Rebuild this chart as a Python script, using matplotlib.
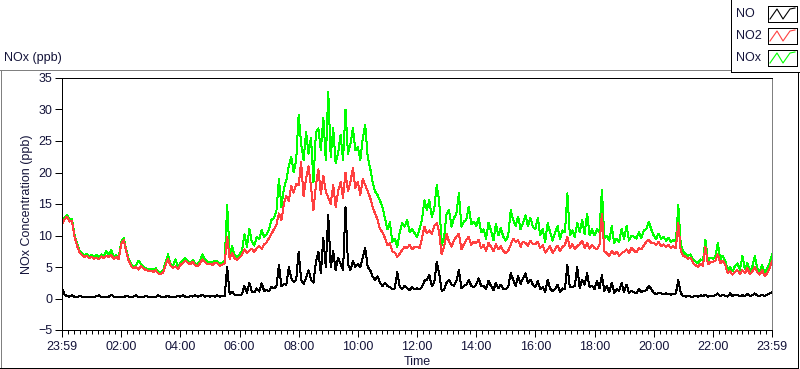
import numpy as np
import matplotlib
matplotlib.use('Agg')
import matplotlib.pyplot as plt
from matplotlib.patches import Rectangle

plt.rcParams['font.family'] = ['Liberation Sans', 'DejaVu Sans']

# 5-minute readings (ppb), one row per hour starting at 23:59
no2 = [11.8, 12.5, 13.0, 12.2, 12.3, 10.0, 8.5, 7.4, 6.9, 6.6, 6.8, 6.4,
       6.6, 6.3, 6.5, 6.2, 6.7, 6.4, 6.8, 6.6, 6.9, 6.3, 6.6, 6.2,
       8.6, 9.3, 7.6, 6.0, 5.2, 4.8, 5.0, 4.6, 5.2, 4.8, 4.5, 4.4,
       4.4, 4.2, 4.5, 4.0, 3.9, 4.1, 5.3, 6.3, 5.2, 4.9, 5.1, 4.7,
       5.3, 5.6, 6.0, 5.7, 5.4, 5.8, 5.3, 5.1, 5.6, 6.2, 5.8, 5.4,
       5.5, 5.3, 5.7, 5.6, 5.2, 5.4, 5.6, 9.8, 6.3, 7.2, 6.4, 6.1,
       6.5, 6.9, 7.8, 7.2, 7.6, 7.9, 7.4, 8.0, 8.3, 7.9, 8.6, 8.9,
       9.6, 10.3, 11.0, 11.8, 13.5, 12.4, 15.0, 16.3, 15.5, 17.8, 16.8, 18.2,
       18.0, 21.7, 16.2, 19.0, 21.0, 17.8, 14.0, 18.0, 20.5, 16.5, 19.5, 17.0,
       16.0, 15.0, 18.0, 14.5, 17.0, 18.5, 16.0, 20.0, 17.0, 18.5, 20.7, 17.5,
       18.5, 16.4, 19.0, 18.0, 17.0, 16.0, 14.5, 13.5, 12.5, 11.0, 10.5, 9.6,
       8.5, 8.8, 7.5, 7.3, 6.6, 7.1, 7.7, 8.2, 8.0, 8.5, 7.8, 8.2,
       8.2, 8.0, 9.5, 11.4, 10.4, 10.8, 10.2, 11.5, 12.0, 10.5, 7.0, 8.2,
       10.3, 9.0, 8.2, 9.3, 9.8, 10.3, 7.8, 8.6, 9.3, 9.8, 8.5, 9.0,
       8.8, 9.3, 8.0, 8.5, 7.6, 8.8, 8.2, 7.5, 8.6, 7.8, 8.3, 7.6,
       7.2, 7.6, 8.5, 9.5, 9.0, 9.3, 8.2, 9.0, 8.8, 8.4, 9.2, 8.6,
       8.6, 9.0, 8.0, 8.5, 7.3, 7.8, 8.3, 7.2, 7.8, 8.4, 7.5, 8.2,
       8.5, 9.8, 8.0, 8.6, 7.8, 8.3, 8.6, 9.2, 8.0, 8.8, 7.9, 8.5,
       8.0, 7.8, 8.5, 13.5, 7.5, 7.2, 6.8, 7.6, 7.0, 7.4, 6.8, 7.2,
       7.4, 7.8, 7.2, 8.0, 7.6, 7.3, 8.0, 7.8, 8.4, 9.0, 9.3, 8.8,
       8.8, 8.5, 9.0, 8.3, 8.6, 8.2, 8.5, 8.0, 8.3, 8.0, 12.0, 7.5,
       6.8, 6.6, 6.3, 6.5, 5.6, 5.3, 5.0, 5.5, 5.2, 8.2, 5.4, 5.8,
       5.8, 6.0, 7.0, 5.6, 6.0, 5.4, 4.0, 4.3, 3.8, 4.2, 4.5, 3.9,
       4.5, 4.0, 4.8, 3.9, 4.3, 5.0, 4.2, 3.8, 4.5, 3.6, 4.0, 4.8,
       6.0]

nox = [12.0, 12.8, 13.3, 12.5, 12.6, 10.3, 8.8, 7.7, 7.2, 6.9, 7.1, 6.7,
       6.9, 6.6, 6.9, 6.5, 7.0, 6.7, 7.5, 6.9, 7.7, 6.6, 6.9, 6.5,
       8.9, 9.6, 7.9, 6.3, 5.5, 5.1, 5.3, 6.0, 5.5, 5.1, 4.8, 4.7,
       4.7, 4.6, 4.8, 4.3, 4.1, 4.4, 5.7, 7.0, 5.5, 5.2, 6.2, 5.0,
       5.6, 6.0, 6.4, 6.0, 5.7, 6.1, 5.6, 5.4, 6.0, 7.0, 6.2, 5.8,
       5.8, 5.6, 6.0, 5.9, 5.5, 5.7, 6.0, 14.8, 7.0, 8.3, 6.9, 6.6,
       7.0, 7.6, 10.2, 8.2, 11.0, 9.0, 8.4, 9.8, 9.4, 10.9, 9.8, 10.2,
       11.0, 12.5, 12.8, 14.0, 19.0, 14.5, 17.5, 18.8, 21.0, 22.5, 20.0, 22.0,
       29.2, 24.5, 22.0, 26.4, 23.0, 25.5, 18.5, 26.4, 27.0, 23.5, 28.7, 22.0,
       32.8, 22.5, 27.0, 21.5, 23.0, 26.0, 22.0, 30.0, 23.0, 24.5, 27.0, 23.5,
       24.0, 22.0, 25.5, 27.5, 22.5, 20.7, 18.5, 17.0, 16.4, 15.5, 14.5, 12.7,
       11.0, 12.1, 9.0, 9.5, 8.2, 10.5, 12.0, 11.4, 12.5, 10.5, 11.0, 10.4,
       9.8, 11.0, 12.5, 15.6, 14.0, 15.6, 13.0, 14.2, 18.0, 15.5, 8.5, 9.8,
       13.5, 14.0, 11.4, 12.8, 13.5, 16.7, 11.4, 12.2, 12.5, 14.6, 11.8, 12.2,
       11.5, 12.8, 10.5, 11.0, 9.5, 12.0, 10.8, 9.2, 11.8, 10.0, 11.2, 9.8,
       9.2, 10.0, 14.0, 12.5, 11.5, 13.0, 11.0, 12.0, 13.2, 11.5, 12.8, 11.4,
       11.0, 12.8, 10.0, 11.0, 9.0, 12.0, 10.5, 9.2, 10.5, 11.5, 9.5, 10.8,
       10.5, 16.7, 10.0, 10.8, 9.8, 12.0, 10.5, 12.5, 10.2, 13.5, 10.0, 11.0,
       10.0, 11.0, 10.5, 17.3, 9.5, 10.0, 9.2, 11.5, 8.8, 9.5, 9.0, 11.0,
       9.5, 11.5, 9.2, 10.0, 9.8, 9.5, 10.5, 9.6, 10.8, 11.0, 12.2, 11.0,
       10.0, 9.5, 10.3, 9.5, 9.8, 9.2, 9.6, 9.0, 9.3, 9.0, 14.8, 8.5,
       7.4, 7.0, 6.8, 7.0, 6.2, 5.9, 5.6, 6.2, 6.0, 9.3, 6.0, 6.5,
       6.3, 6.6, 8.8, 6.2, 6.8, 6.0, 4.5, 5.0, 4.3, 5.2, 5.6, 4.5,
       6.8, 4.6, 5.6, 4.4, 5.0, 6.7, 4.8, 4.3, 5.3, 4.1, 4.8, 5.6,
       7.0]

no = [1.7, 0.6, 0.4, 0.3, 0.5, 0.3, 0.2, 0.4, 0.3, 0.2, 0.3, 0.2,
      0.3, 0.2, 0.4, 0.5, 0.2, 0.3, 0.2, 0.3, 0.6, 0.3, 0.2, 0.3,
      0.3, 0.2, 0.4, 0.3, 0.2, 0.3, 0.5, 0.2, 0.3, 0.2, 0.4, 0.3,
      0.2, 0.3, 0.2, 0.5, 0.3, 0.2, 0.3, 0.4, 0.2, 0.3, 0.2, 0.4,
      0.3, 0.5, 0.3, 0.2, 0.4, 0.3, 0.5, 0.3, 0.4, 0.6, 0.3, 0.4,
      0.3, 0.4, 0.3, 0.5, 0.3, 0.4, 0.4, 5.0, 0.7, 1.1, 0.6, 0.5,
      0.5, 0.7, 2.0, 0.9, 2.5, 1.1, 1.0, 1.6, 1.1, 2.4, 1.2, 1.3,
      1.2, 1.9, 1.6, 2.0, 5.3, 2.0, 2.3, 2.2, 5.0, 3.2, 2.6, 3.0,
      7.4, 3.0, 2.3, 3.3, 4.5, 3.0, 2.5, 5.8, 7.4, 4.0, 9.6, 5.0,
      13.3, 5.0, 7.5, 4.5, 6.5, 5.5, 4.5, 14.5, 5.5, 4.5, 6.0, 5.0,
      5.5, 5.0, 6.5, 8.0, 5.0, 4.5, 3.5, 3.0, 3.5, 2.5, 2.0, 2.5,
      2.0, 1.8, 1.5, 1.6, 4.2, 1.8, 1.5, 2.0, 1.6, 1.3, 1.8, 1.5,
      1.6, 1.5, 1.8, 2.8, 3.0, 3.7, 2.0, 2.5, 5.8, 4.0, 1.2, 1.4,
      2.5, 3.0, 2.2, 2.0, 2.8, 4.5, 1.6, 2.0, 2.2, 3.0, 2.0, 1.8,
      2.2, 3.2, 2.0, 2.0, 1.5, 2.8, 2.0, 1.3, 2.5, 1.6, 2.2, 1.5,
      1.5, 1.8, 4.0, 3.0, 2.0, 3.5, 2.3, 3.2, 4.0, 2.5, 3.0, 2.2,
      1.8, 2.8, 1.5, 1.8, 1.0, 3.0, 1.6, 1.2, 1.5, 2.2, 1.0, 1.6,
      1.5, 5.3, 1.8, 1.8, 2.0, 5.0, 1.6, 3.0, 2.2, 4.0, 1.8, 2.0,
      1.5, 2.8, 1.6, 3.7, 1.2, 2.0, 1.0, 2.5, 0.9, 1.5, 1.2, 2.5,
      1.0, 2.2, 0.9, 1.2, 1.0, 0.8, 1.5, 1.0, 1.2, 1.3, 2.0, 1.5,
      0.9, 0.7, 0.9, 0.8, 0.7, 0.8, 0.7, 0.6, 0.7, 0.8, 2.9, 0.8,
      0.4, 0.3, 0.4, 0.3, 0.3, 0.4, 0.3, 0.5, 0.4, 0.6, 0.3, 0.4,
      0.4, 0.5, 0.8, 0.4, 0.6, 0.4, 0.3, 0.8, 0.4, 0.6, 0.5, 0.4,
      0.5, 0.4, 0.7, 0.4, 0.5, 0.8, 0.5, 0.4, 0.6, 0.4, 0.6, 0.8,
      1.0]

tick_hours = [0, 2, 4, 6, 8, 10, 12, 14, 16, 18, 20, 22, 24]
tick_labels = ['23:59', '02:00', '04:00', '06:00', '08:00', '10:00', '12:00',
               '14:00', '16:00', '18:00', '20:00', '22:00', '23:59']
series_names = ['NO', 'NO2', 'NOx']
series_colors = ['#000000', '#ff4040', '#00ff00']

txt = '#14143a'
px = 0.72  # one pixel line width in points
W, H = 800, 369
fig = plt.figure(figsize=(W / 100, H / 100), dpi=100)
fig.patch.set_facecolor('white')

# background panel drawn in pixel coordinates
bg = fig.add_axes([0, 0, 1, 1])
bg.set_xlim(0, W)
bg.set_ylim(H, 0)
bg.axis('off')
bg.plot([0.5, 0.5], [69.5, 368], color='#808080', lw=px, antialiased=False)
bg.plot([0, 730], [69.5, 69.5], color='#808080', lw=px, antialiased=False)
bg.plot([0, 798], [367.5, 367.5], color='#000000', lw=px, antialiased=False)
bg.plot([797.5, 797.5], [72, 368], color='#000000', lw=px, antialiased=False)
bg.text(4, 58, 'NOx (ppb)', fontsize=9, color=txt, va='center', ha='left')

# legend box
bg.add_patch(Rectangle((730.5, -1), 70, 72.5, fill=True, facecolor='white',
                       edgecolor='#000000', lw=px, antialiased=False))
for i, (name, col) in enumerate(zip(series_names, series_colors)):
    yc = 14 + i * 22
    bg.text(736, yc, name, fontsize=9, color=txt, va='center', ha='left')
    bg.add_patch(Rectangle((767.5, yc - 8), 29, 16, fill=False,
                           edgecolor='#000000', lw=px, antialiased=False))
    zx = [770, 777, 783, 790, 795]
    zy = [yc + 5, yc - 5, yc + 5, yc - 5, yc - 6]
    bg.plot(zx, zy, color=col, lw=0.8)

# main plot
ax = fig.add_axes([62 / W, 1 - 330 / H, 710 / W, 252 / H])
t = np.arange(len(no2)) * 5 / 60.0
ax.plot(t, nox, color=series_colors[2], lw=px, antialiased=False)
ax.plot(t, no2, color=series_colors[1], lw=px, antialiased=False)
ax.plot(t, no, color=series_colors[0], lw=px, antialiased=False)

ax.set_xlim(0, 24)
ax.set_ylim(-5, 35)
ax.set_yticks(range(-5, 36, 5))
ax.set_xticks(tick_hours)
ax.set_xticklabels(tick_labels)
ax.set_xticks(np.arange(0, 24.01, 0.2), minor=True)
ax.tick_params(axis='both', which='major', labelsize=9, labelcolor=txt,
               length=5, width=px, direction='out', pad=2)
ax.tick_params(axis='x', which='minor', length=3, width=px)
ax.tick_params(axis='x', which='major', pad=3)
for s in ['left', 'top', 'bottom']:
    ax.spines[s].set_color('#000000')
ax.spines['right'].set_color('#808080')
for s in ax.spines.values():
    s.set_linewidth(px)
ax.set_xlabel('Time', fontsize=9, color=txt, labelpad=2)
ax.set_ylabel('NOx Concentration (ppb)', fontsize=9, color=txt, labelpad=4)

fig.savefig('out.png', dpi=100)
